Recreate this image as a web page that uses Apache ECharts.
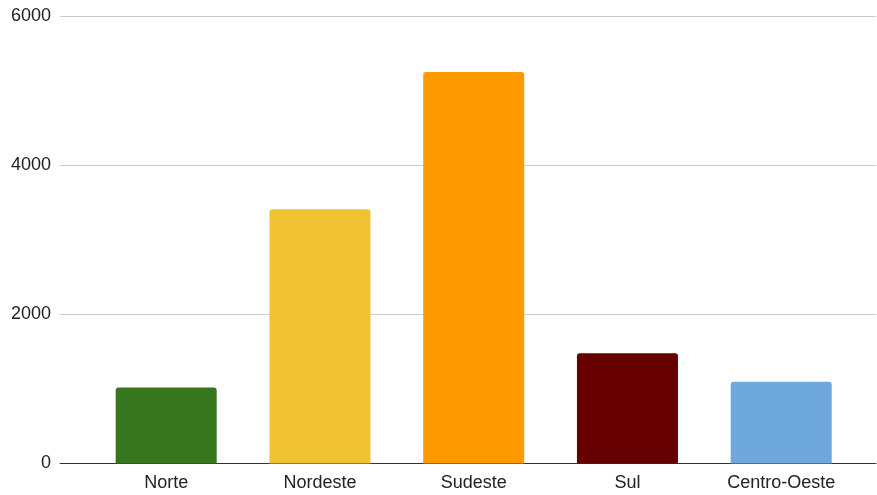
<!DOCTYPE html>
<html>
<head>
<meta charset="utf-8">
<script src="https://cdn.jsdelivr.net/npm/echarts@6/dist/echarts.min.js"></script>
<style>
  html, body { margin: 0; padding: 0; background: #fff; }
  #chart { width: 877px; height: 495px; }
</style>
</head>
<body>
<div id="chart"></div>
<script>
// Regions of Brazil and their values
const regions = ['Norte', 'Nordeste', 'Sudeste', 'Sul', 'Centro-Oeste'];
const values = [1020, 3410, 5250, 1478, 1097];
const barColors = ['#38761d', '#f1c232', '#ff9900', '#660000', '#6fa8dc'];
const yTicks = [0, 2000, 4000, 6000];

const FONT = 'Liberation Sans, Arial, sans-serif';
const yMin = yTicks[0];
const yMax = yTicks[yTicks.length - 1];
const yStep = yTicks[1] - yTicks[0];

const chart = echarts.init(document.getElementById('chart'), null, { renderer: 'canvas' });

chart.setOption({
  animation: false,
  backgroundColor: '#ffffff',
  grid: [
    // full-width frame: gridlines, y labels and baseline
    { left: 60, right: 1, top: 16, bottom: 31.5 },
    // inset plotting area for the bars
    { left: 89.3, right: 18.9, top: 16, bottom: 31.5 }
  ],
  xAxis: [
    {
      gridIndex: 0, type: 'value', min: 0, max: 1,
      axisLine: { show: true, onZero: false, lineStyle: { color: '#333333', width: 1 } },
      axisTick: { show: false }, axisLabel: { show: false }, splitLine: { show: false }
    },
    {
      gridIndex: 1, type: 'category', data: regions,
      axisLine: { show: false }, axisTick: { show: false },
      axisLabel: { color: '#222222', fontSize: 18, fontFamily: FONT, margin: 11 }
    }
  ],
  yAxis: [
    {
      gridIndex: 0, type: 'value', min: yMin, max: yMax, interval: yStep,
      axisLine: { show: false }, axisTick: { show: false },
      axisLabel: {
        color: '#222222', fontSize: 18, fontFamily: FONT, margin: 9,
        formatter: v => String(v)
      },
      splitLine: { lineStyle: { color: '#cccccc', width: 1 } }
    },
    {
      gridIndex: 1, type: 'value', min: yMin, max: yMax, interval: yStep,
      show: false
    }
  ],
  series: [{
    type: 'bar',
    xAxisIndex: 1,
    yAxisIndex: 1,
    barWidth: '65.7%',
    data: values.map((v, i) => ({
      value: v,
      itemStyle: { color: barColors[i], borderRadius: [3, 3, 0, 0] }
    }))
  }]
});
</script>
</body>
</html>
